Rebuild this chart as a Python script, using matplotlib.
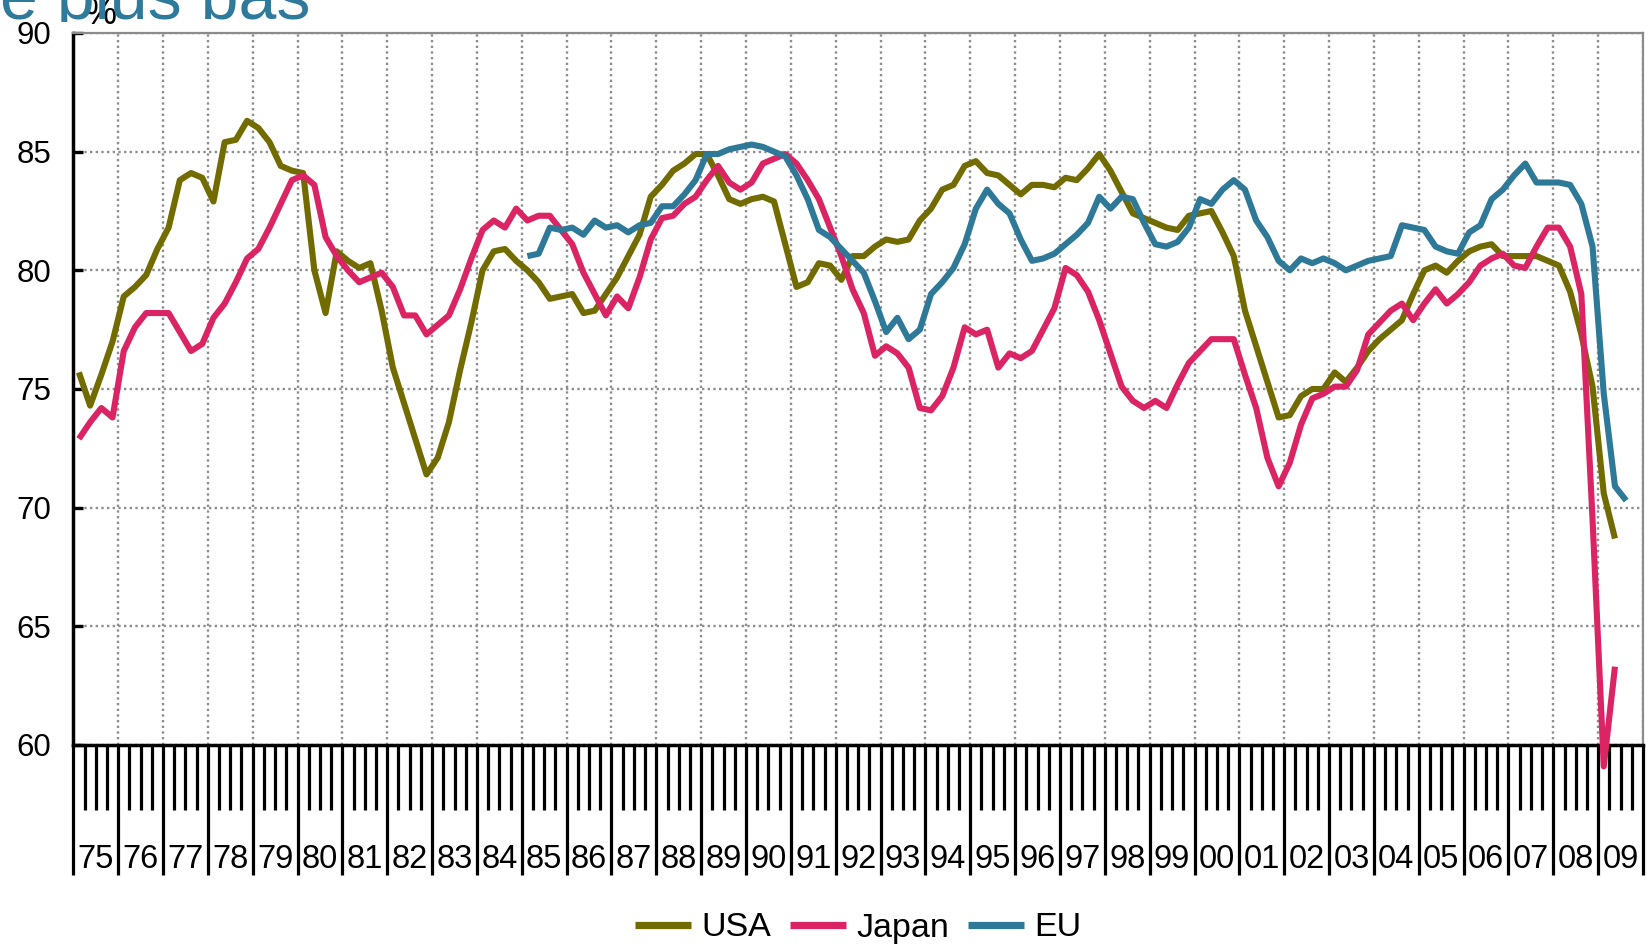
import matplotlib
matplotlib.use('Agg')
import matplotlib.pyplot as plt
import numpy as np
from matplotlib.lines import Line2D
from matplotlib.transforms import Bbox, TransformedBbox, blended_transform_factory

plt.rcParams['font.family'] = ['Liberation Sans', 'DejaVu Sans']

# quarterly capacity utilisation, %, starting 1975Q1 (EU from 1985Q1)
usa = [75.7, 74.3, 75.6, 77.0,   # 75
       78.9, 79.3, 79.8, 80.9,   # 76
       81.8, 83.8, 84.1, 83.9,   # 77
       82.9, 85.4, 85.5, 86.3,   # 78
       86.0, 85.4, 84.4, 84.2,   # 79
       84.1, 80.0, 78.2, 80.8,   # 80
       80.4, 80.1, 80.3, 78.3,   # 81
       75.9, 74.4, 72.9, 71.4,   # 82
       72.1, 73.6, 75.8, 77.8,   # 83
       80.0, 80.8, 80.9, 80.4,   # 84
       80.0, 79.5, 78.8, 78.9,   # 85
       79.0, 78.2, 78.3, 79.0,   # 86
       79.7, 80.6, 81.5, 83.1,   # 87
       83.6, 84.2, 84.5, 84.9,   # 88
       84.9, 84.0, 83.0, 82.8,   # 89
       83.0, 83.1, 82.9, 81.1,   # 90
       79.3, 79.5, 80.3, 80.2,   # 91
       79.6, 80.6, 80.6, 81.0,   # 92
       81.3, 81.2, 81.3, 82.1,   # 93
       82.6, 83.4, 83.6, 84.4,   # 94
       84.6, 84.1, 84.0, 83.6,   # 95
       83.2, 83.6, 83.6, 83.5,   # 96
       83.9, 83.8, 84.3, 84.9,   # 97
       84.2, 83.3, 82.4, 82.2,   # 98
       82.0, 81.8, 81.7, 82.3,   # 99
       82.4, 82.5, 81.6, 80.6,   # 00
       78.3, 76.8, 75.3, 73.8,   # 01
       73.9, 74.7, 75.0, 75.0,   # 02
       75.7, 75.3, 75.9, 76.6,   # 03
       77.1, 77.5, 77.9, 79.0,   # 04
       80.0, 80.2, 79.9, 80.4,   # 05
       80.8, 81.0, 81.1, 80.6,   # 06
       80.6, 80.6, 80.6, 80.4,   # 07
       80.2, 79.1, 77.3, 75.1,   # 08
       70.6, 68.7]               # 09

japan = [72.9, 73.6, 74.2, 73.8,   # 75
         76.6, 77.6, 78.2, 78.2,   # 76
         78.2, 77.4, 76.6, 76.9,   # 77
         78.0, 78.6, 79.5, 80.5,   # 78
         80.9, 81.8, 82.8, 83.8,   # 79
         84.0, 83.6, 81.4, 80.6,   # 80
         80.0, 79.5, 79.7, 79.9,   # 81
         79.3, 78.1, 78.1, 77.3,   # 82
         77.7, 78.1, 79.2, 80.5,   # 83
         81.7, 82.1, 81.8, 82.6,   # 84
         82.1, 82.3, 82.3, 81.7,   # 85
         81.1, 79.9, 79.0, 78.1,   # 86
         78.9, 78.4, 79.7, 81.3,   # 87
         82.2, 82.3, 82.8, 83.1,   # 88
         83.8, 84.4, 83.7, 83.4,   # 89
         83.7, 84.5, 84.7, 84.9,   # 90
         84.5, 83.8, 83.0, 81.8,   # 91
         80.6, 79.2, 78.2, 76.4,   # 92
         76.8, 76.5, 75.9, 74.2,   # 93
         74.1, 74.7, 75.9, 77.6,   # 94
         77.3, 77.5, 75.9, 76.5,   # 95
         76.3, 76.6, 77.5, 78.4,   # 96
         80.1, 79.8, 79.1, 77.9,   # 97
         76.5, 75.1, 74.5, 74.2,   # 98
         74.5, 74.2, 75.2, 76.1,   # 99
         76.6, 77.1, 77.1, 77.1,   # 00
         75.6, 74.2, 72.1, 70.9,   # 01
         71.9, 73.5, 74.6, 74.8,   # 02
         75.1, 75.1, 75.8, 77.3,   # 03
         77.8, 78.3, 78.6, 77.9,   # 04
         78.6, 79.2, 78.6, 79.0,   # 05
         79.5, 80.2, 80.5, 80.7,   # 06
         80.2, 80.1, 81.0, 81.8,   # 07
         81.8, 81.0, 79.0, 69.5,   # 08
         59.1, 63.3]               # 09

eu = [80.6, 80.7, 81.8, 81.7,   # 85
      81.8, 81.5, 82.1, 81.8,   # 86
      81.9, 81.6, 81.9, 82.0,   # 87
      82.7, 82.7, 83.2, 83.8,   # 88
      84.9, 84.9, 85.1, 85.2,   # 89
      85.3, 85.2, 85.0, 84.8,   # 90
      84.0, 83.0, 81.7, 81.4,   # 91
      80.9, 80.4, 79.9, 78.7,   # 92
      77.4, 78.0, 77.1, 77.5,   # 93
      79.0, 79.5, 80.1, 81.1,   # 94
      82.6, 83.4, 82.8, 82.4,   # 95
      81.3, 80.4, 80.5, 80.7,   # 96
      81.1, 81.5, 82.0, 83.1,   # 97
      82.6, 83.1, 83.0, 82.0,   # 98
      81.1, 81.0, 81.2, 81.8,   # 99
      83.0, 82.8, 83.4, 83.8,   # 00
      83.4, 82.1, 81.4, 80.4,   # 01
      80.0, 80.5, 80.3, 80.5,   # 02
      80.3, 80.0, 80.2, 80.4,   # 03
      80.5, 80.6, 81.9, 81.8,   # 04
      81.7, 81.0, 80.8, 80.7,   # 05
      81.6, 81.9, 83.0, 83.4,   # 06
      84.0, 84.5, 83.7, 83.7,   # 07
      83.7, 83.6, 82.8, 81.0,   # 08
      74.8, 70.9, 70.3]         # 09

series_names = ['USA', 'Japan', 'EU']
series_colors = ['#716b00', '#da2463', '#2e7898']
year_labels = ['%02d' % (y % 100) for y in range(1975, 2010)]


def qx(start_year, n):
    # x position = middle of each quarter
    return start_year + (np.arange(n) + 0.5) / 4.0


W, H = 1651, 951
fig = plt.figure(figsize=(W / 100, H / 100), dpi=100)
ax = fig.add_axes([73.3 / W, 1 - 745 / H, (1643 - 73.3) / W, (745 - 33) / H])

for vals, start, c in zip([usa, japan, eu], [1975, 1975, 1985], series_colors):
    ax.plot(qx(start, len(vals)), vals, color=c, lw=4.4, clip_on=False,
            solid_capstyle='butt', solid_joinstyle='round', zorder=5)

ax.set_xlim(1975, 2010)
ax.set_ylim(60, 90)
ax.set_yticks(range(60, 91, 5))
ax.set_xticks(np.arange(1975, 2011))
ax.set_xticks([y + k / 4 for y in range(1975, 2010) for k in (1, 2, 3)], minor=True)

ax.tick_params(axis='x', which='major', direction='out', length=93.6, width=2.3,
               color='black', labelbottom=False)
ax.tick_params(axis='x', which='minor', direction='out', length=46.8, width=2.3,
               color='black')
ax.tick_params(axis='y', which='major', direction='in', length=7, width=2.4,
               labelsize=22.5, pad=16)

ax.set_axisbelow(True)
ax.grid(True, which='major', color='#8e8e8e', lw=1.7, linestyle=(0, (1, 1.4)))

for s in ['left', 'bottom']:
    ax.spines[s].set_color('black')
    ax.spines[s].set_linewidth(2.5)
for s in ['top', 'right']:
    ax.spines[s].set_color('#8c8c8c')
    ax.spines[s].set_linewidth(1.6)

# year labels between the long ticks
trans = blended_transform_factory(ax.transData, ax.transAxes)
for i, lab in enumerate(year_labels):
    ax.text(1975 + i + 0.5, -0.1728, lab, transform=trans, ha='center',
            va='baseline', fontsize=23.5)

fig.text(101 / W, 1 - 15 / H, '%', ha='center', va='center', fontsize=26)

# title, mostly hidden above the picture
t = fig.text(0.0, 1 - 19 / H, 'e plus bas', color='#2e7a9a', fontsize=49,
             ha='left', va='baseline')
t.set_clip_box(TransformedBbox(Bbox([[0, 1 - 22 / H], [1, 1]]), fig.transFigure))

handles = [Line2D([], [], color=c, lw=5.2, solid_capstyle='butt') for c in series_colors]
fig.legend(handles, series_names, loc='center', bbox_to_anchor=(858 / W, 1 - 928 / H),
           ncol=3, frameon=False, fontsize=24.5, handlelength=1.65,
           handletextpad=0.3, columnspacing=0.55, borderpad=0, borderaxespad=0)

fig.savefig('out.png', dpi=100)
